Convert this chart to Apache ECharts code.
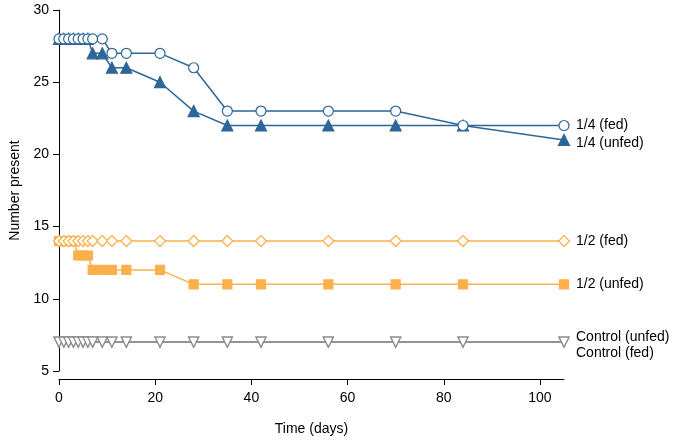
<!DOCTYPE html>
<html>
<head>
<meta charset="utf-8">
<script src="https://cdn.jsdelivr.net/npm/echarts@6/dist/echarts.min.js"></script>
<style>html,body{margin:0;padding:0;background:#fff;}#c{width:675px;height:441px;}</style>
</head>
<body>
<div id="c"></div>
<script>
var days = [0,1,2,3,4,5,6,7,9,11,14,21,28,35,42,56,70,84,105];
var quarterFed   = [28,28,28,28,28,28,28,28,28,27,27,27,26,23,23,23,23,22,22];
var quarterUnfed = [28,28,28,28,28,28,28,27,27,26,26,25,23,22,22,22,22,22,21];
var halfFed      = [14,14,14,14,14,14,14,14,14,14,14,14,14,14,14,14,14,14,14];
var halfUnfed    = [14,14,14,14,13,13,13,12,12,12,12,12,11,11,11,11,11,11,11];
var controlUnfed = [7,7,7,7,7,7,7,7,7,7,7,7,7,7,7,7,7,7,7];
var controlFed   = [7,7,7,7,7,7,7,7,7,7,7,7,7,7,7,7,7,7,7];
var xTicks = [0,20,40,60,80,100];
var yTicks = [5,10,15,20,25,30];

var BLUE = '#2d6698', ORANGE = '#fbb04a', GREY = '#8c8c8c';
var FONT = 'Liberation Sans';

function pairs(vals){ return days.map(function(d,i){ return [d, vals[i]]; }); }

function mk(name, vals, color, symbol, size, filled, dy, rotate){
  return {
    name: name, type: 'line', data: pairs(vals),
    symbol: symbol, symbolSize: size, symbolRotate: rotate || 0,
    showAllSymbol: true, animation: false,
    lineStyle: { color: color, width: 1.5 },
    itemStyle: { color: filled ? color : '#ffffff', borderColor: color, borderWidth: 1.2 },
    endLabel: { show: true, formatter: name, color: '#000', fontFamily: FONT, fontSize: 14,
                distance: 12, offset: [0, dy], align: 'left' },
    emphasis: { disabled: true }
  };
}

var chart = echarts.init(document.getElementById('c'), null, { renderer: 'canvas' });
chart.setOption({
  animation: false,
  backgroundColor: '#fff',
  grid: { left: 59, right: 111, top: 10, bottom: 70, containLabel: false },
  xAxis: {
    type: 'value', min: 0, max: 105, interval: 20, offset: 8,
    name: 'Time (days)', nameLocation: 'middle', nameGap: 43,
    nameTextStyle: { color: '#000', fontFamily: FONT, fontSize: 14 },
    axisLine: { lineStyle: { color: '#000', width: 1 } },
    axisTick: { show: true, length: 6, customValues: xTicks, lineStyle: { color: '#000' } },
    axisLabel: { color: '#000', fontFamily: FONT, fontSize: 14, margin: 12, customValues: xTicks },
    splitLine: { show: false }
  },
  yAxis: {
    type: 'value', min: 5, max: 30, interval: 5,
    name: 'Number present', nameLocation: 'middle', nameGap: 35, nameRotate: 90,
    nameTextStyle: { color: '#000', fontFamily: FONT, fontSize: 14 },
    axisLine: { show: true, lineStyle: { color: '#000', width: 1 } },
    axisTick: { show: true, length: 6, customValues: yTicks, lineStyle: { color: '#000' } },
    axisLabel: { color: '#000', fontFamily: FONT, fontSize: 14, margin: 10, customValues: yTicks },
    splitLine: { show: false }
  },
  series: [
    mk('1/4 (unfed)', quarterUnfed, BLUE, 'triangle', 11, true, 3),
    mk('1/4 (fed)', quarterFed, BLUE, 'circle', 10, false, 0),
    mk('1/2 (unfed)', halfUnfed, ORANGE, 'rect', 9, true, 0),
    mk('1/2 (fed)', halfFed, ORANGE, 'diamond', 11, false, 0),
    mk('Control (fed)', controlFed, GREY, 'triangle', 10, false, 11, 180),
    mk('Control (unfed)', controlUnfed, GREY, 'triangle', 10, false, -5, 180)
  ]
});
</script>
</body>
</html>
